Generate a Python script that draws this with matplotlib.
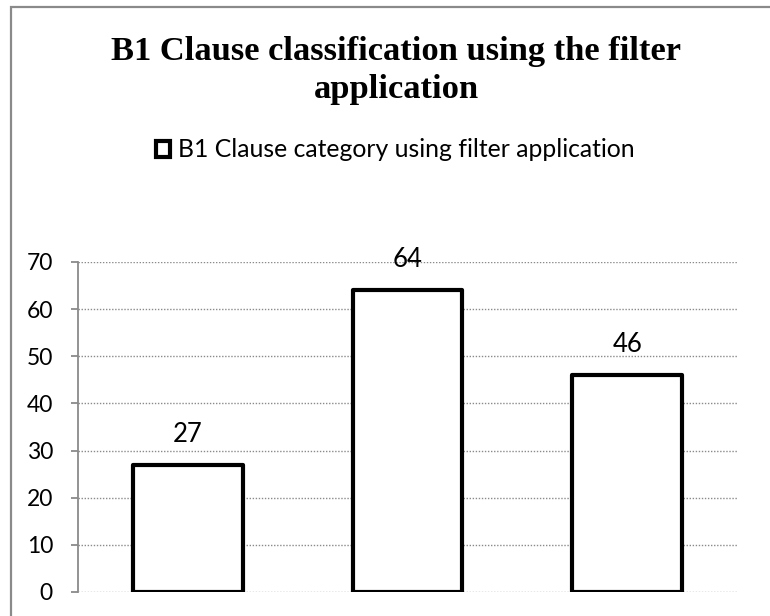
import matplotlib
matplotlib.use("Agg")
import matplotlib.pyplot as plt
from matplotlib.patches import Rectangle

categories = ["A", "B", "C"]
values = [27, 64, 46]
yticks = [0, 10, 20, 30, 40, 50, 60, 70]
title_line1 = "B1 Clause classification using the filter"
title_line2 = "application"
series_name = "B1 Clause category using filter application"

W, H = 770, 616
fig = plt.figure(figsize=(W / 100, H / 100), dpi=100)
ax = fig.add_axes([78 / W, 1 - 592 / H, (737 - 78) / W, (592 - 262) / H])

bars = ax.bar(range(len(categories)), values, width=0.5, color="white",
              edgecolor="black", linewidth=3.0, label=series_name, zorder=3)
for b in bars:
    b.set_joinstyle("round")

ax.set_xlim(-0.5, len(categories) - 0.5)
ax.set_ylim(0, 70)
ax.set_yticks(yticks)
ax.set_yticklabels([str(t) for t in yticks], fontfamily="Lato", fontsize=16.5)
ax.set_xticks([])
ax.yaxis.grid(True, linestyle=(0, (1, 1.2)), color="#8a8a8a", linewidth=1.0)
ax.set_axisbelow(True)
for s in ["top", "right", "bottom"]:
    ax.spines[s].set_visible(False)
ax.spines["left"].set_color("#8a8a8a")
ax.spines["left"].set_linewidth(1.3)
ax.tick_params(axis="y", direction="out", length=5, width=1.3, color="#8a8a8a", pad=13)

for i, v in enumerate(values):
    ax.annotate(str(v), (i, v), xytext=(0, 13), textcoords="offset points",
                ha="center", va="bottom", fontfamily="Lato", fontsize=18.5)

fig.text(396 / W, 1 - 60 / H, title_line1,
         ha="center", va="baseline", fontfamily="Liberation Serif",
         fontweight="bold", fontsize=24.8)
fig.text(396 / W, 1 - 98 / H, title_line2,
         ha="center", va="baseline", fontfamily="Liberation Serif",
         fontweight="bold", fontsize=24.8)

leg = fig.legend(handles=[bars[0]], labels=[series_name], loc="center",
                 bbox_to_anchor=(395 / W, 1 - 150 / H), frameon=False,
                 prop={"family": "Lato", "size": 17.8}, handlelength=0.6,
                 handleheight=0.6, handletextpad=0.3)
for h in leg.legend_handles:
    h.set_linewidth(3.0)

fig.patches.append(Rectangle((10.5 / W, -0.1), 1.2, 1 - 6.5 / H + 0.1,
                             transform=fig.transFigure, fill=False,
                             edgecolor="#8a8a8a", linewidth=1.6))

fig.savefig("out.png", dpi=100)
